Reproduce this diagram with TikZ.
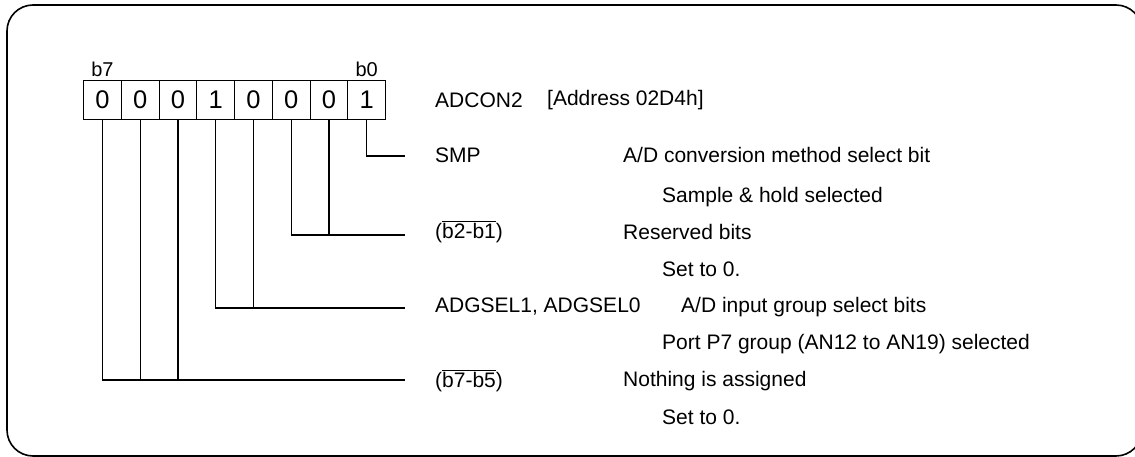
\documentclass[tikz,border=0pt]{standalone}
\usepackage{fontspec}
\setmainfont{Liberation Sans}
\newcommand\ovbar[1]{\leavevmode\vbox{\hrule height 0.9pt\kern1.2pt\hbox{#1}}}
\begin{document}
\begin{tikzpicture}[x=1pt,y=-1pt,
  cell/.style={draw,line width=1.2pt,minimum width=37.75pt,minimum height=39pt,inner sep=0pt,anchor=north west,font=\fontsize{25.5}{28}\selectfont},
  bitlbl/.style={font=\fontsize{20}{22}\selectfont,inner sep=0pt},
  txt/.style={anchor=west,inner sep=0pt,font=\fontsize{21}{24}\selectfont},
  conn/.style={line width=1.2pt}]
\useasboundingbox (0,0) rectangle (1135,457);
\draw[line width=1.6pt,rounded corners=26pt] (7,5) rectangle (1142,456);
% register cells
\foreach \v/\i [count=\k from 0] in {0/7,0/6,0/5,1/4,0/3,0/2,0/1,1/0}{
  \node[cell] (c\i) at ({83+37.75*\k},80) {\v};
}
\node[bitlbl] (l7) at (c7.center |- 0,69) {b7};
\node[bitlbl] (l0) at (c0.center |- 0,69) {b0};
% end points
\coordinate (e0) at (405,156);
\coordinate (e1) at (405,235);
\coordinate (e2) at (405,308);
\coordinate (e3) at (405,380);
\draw[conn] (c0.south) |- (e0);
\draw[conn] (c2.south) |- (e1);
\draw[conn] (c1.south) -- (c1.south |- e1);
\draw[conn] (c4.south) |- (e2);
\draw[conn] (c3.south) -- (c3.south |- e2);
\draw[conn] (c7.south) |- (e3);
\draw[conn] (c6.south) -- (c6.south |- e3);
\draw[conn] (c5.south) -- (c5.south |- e3);
% texts
\node[txt] (reg) at (435,100) {ADCON2};
\node[txt] (addr) at (547,100) {[Address 02D4h]};
\node[txt] (n0) at (435,155) {SMP};
\node[txt] (d0) at (623,155) {A/D conversion method select bit};
\node[txt] (s0) at (662,197) {Sample \& hold selected};
\node[txt] (n1) at (435,232) {(\ovbar{b2-b1})};
\node[txt] (d1) at (623,232) {Reserved bits};
\node[txt] (s1) at (662,269) {Set to 0.};
\node[txt] (n2) at (435,307) {ADGSEL1, ADGSEL0};
\node[txt] (d2) at (681,307) {A/D input group select bits};
\node[txt] (s2) at (662,344) {Port P7 group (AN12 to AN19) selected};
\node[txt] (n3) at (435,381) {(\ovbar{b7-b5})};
\node[txt] (d3) at (623,381) {Nothing is assigned};
\node[txt] (s3) at (662,417) {Set to 0.};
\end{tikzpicture}
\end{document}
